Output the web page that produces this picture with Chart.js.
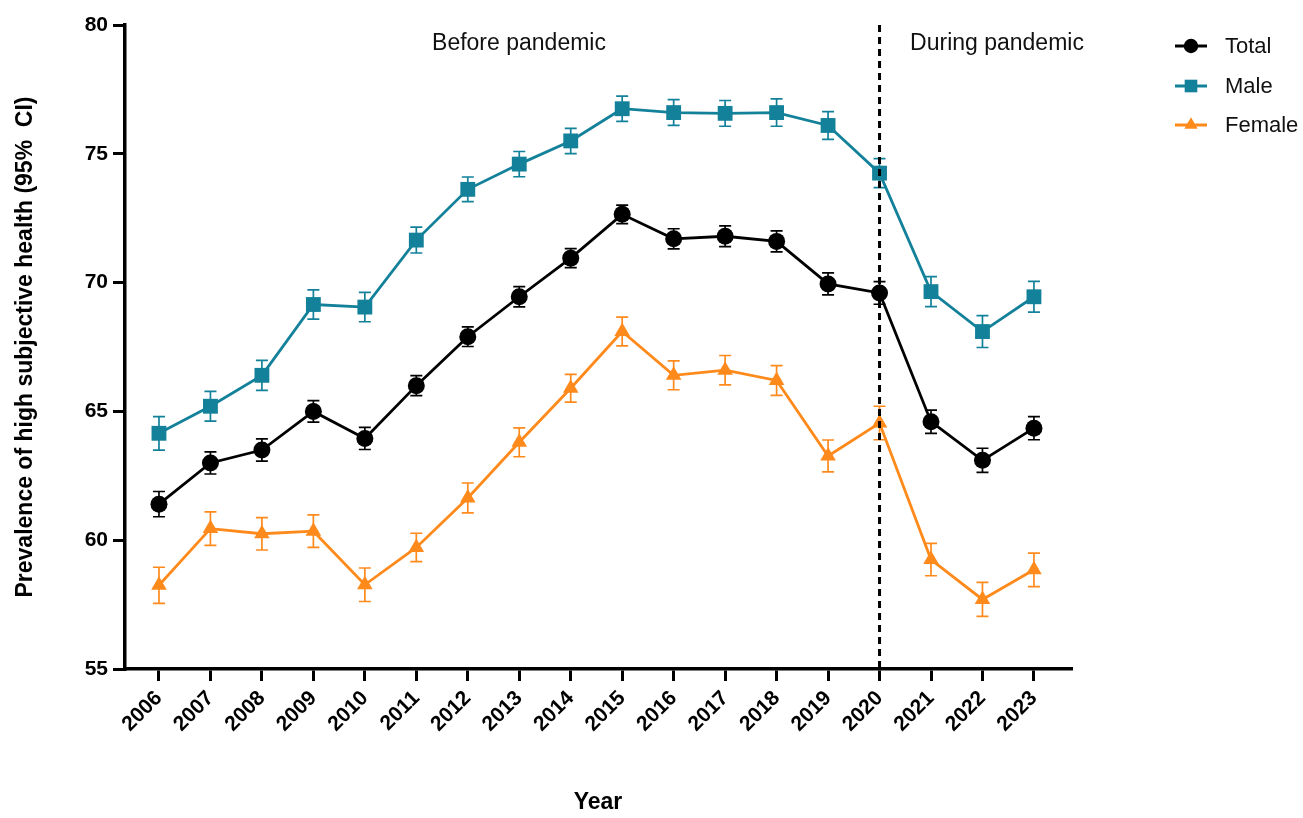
<!DOCTYPE html>
<html>
<head>
<meta charset="utf-8">
<title>Prevalence of high subjective health</title>
<script src="https://cdn.jsdelivr.net/npm/chart.js@4.4.1/dist/chart.umd.min.js"></script>
<style>
    html, body { margin: 0; padding: 0; background: #fff; }
    #wrap { width: 1303px; height: 818px; }
</style>
</head>
<body>
<div id="wrap"><canvas id="healthChart" width="1303" height="818"></canvas></div>
<script>
const years = [2006, 2007, 2008, 2009, 2010, 2011, 2012, 2013, 2014, 2015, 2016, 2017, 2018, 2019, 2020, 2021, 2022, 2023];

const totalValues = [61.4, 63.0, 63.5, 65.0, 63.95, 66.0, 67.9, 69.45, 70.95, 72.65, 71.7, 71.8, 71.6, 69.95, 69.6, 64.6, 63.1, 64.35];
const totalCI = [0.49, 0.43, 0.43, 0.42, 0.43, 0.39, 0.38, 0.39, 0.37, 0.36, 0.39, 0.4, 0.41, 0.43, 0.44, 0.45, 0.47, 0.45];

const maleValues = [64.15, 65.2, 66.4, 69.15, 69.05, 71.65, 73.62, 74.6, 75.5, 76.75, 76.6, 76.57, 76.6, 76.1, 74.25, 69.65, 68.1, 69.45];
const maleCI = [0.65, 0.58, 0.58, 0.57, 0.57, 0.5, 0.48, 0.49, 0.49, 0.49, 0.5, 0.5, 0.53, 0.54, 0.56, 0.58, 0.62, 0.6];

const femaleValues = [58.25, 60.45, 60.25, 60.35, 58.27, 59.72, 61.64, 63.8, 65.9, 68.1, 66.4, 66.6, 66.2, 63.27, 64.55, 59.25, 57.7, 58.85];
const femaleCI = [0.7, 0.65, 0.63, 0.63, 0.65, 0.55, 0.58, 0.56, 0.54, 0.56, 0.56, 0.57, 0.58, 0.62, 0.65, 0.63, 0.66, 0.65];

const yTicks = [55, 60, 65, 70, 75, 80];
const pandemicYear = 2020;
const periodLabels = ['Before pandemic', 'During pandemic'];

const colTotal = '#000000';
const colMale = '#13819a';
const colFemale = '#ff8a1c';
const fontFamily = '"Liberation Sans", Arial, Helvetica, sans-serif';

function toPoints(values) {
    return years.map((yr, i) => ({ x: yr, y: values[i] }));
}

// error bars, drawn under the markers
const errorBars = {
    id: 'errorBars',
    beforeDatasetsDraw(chart) {
        const ctx = chart.ctx;
        const xs = chart.scales.x;
        const ys = chart.scales.y;
        chart.data.datasets.forEach(ds => {
            ctx.save();
            ctx.strokeStyle = ds.borderColor;
            ctx.lineWidth = 1.7;
            ds.ci.forEach((e, i) => {
                const px = xs.getPixelForValue(years[i]);
                const top = ys.getPixelForValue(ds.data[i].y + e);
                const bot = ys.getPixelForValue(ds.data[i].y - e);
                ctx.beginPath();
                ctx.moveTo(px, top); ctx.lineTo(px, bot);
                ctx.moveTo(px - 6, top); ctx.lineTo(px + 6, top);
                ctx.moveTo(px - 6, bot); ctx.lineTo(px + 6, bot);
                ctx.stroke();
            });
            ctx.restore();
        });
    }
};

// dashed divider, period labels and legend
const decorations = {
    id: 'decorations',
    afterDraw(chart) {
        const ctx = chart.ctx;
        const area = chart.chartArea;
        const xs = chart.scales.x;
        const px = xs.getPixelForValue(pandemicYear);

        ctx.save();
        ctx.strokeStyle = '#000';
        ctx.lineWidth = 3;
        ctx.setLineDash([7, 5]);
        ctx.beginPath();
        ctx.moveTo(px, area.top);
        ctx.lineTo(px, area.bottom);
        ctx.stroke();
        ctx.setLineDash([]);

        ctx.fillStyle = '#111';
        ctx.font = '23px ' + fontFamily;
        ctx.textAlign = 'center';
        ctx.textBaseline = 'middle';
        ctx.fillText(periodLabels[0], 519, 44);
        ctx.fillText(periodLabels[1], 997, 44);

        // legend
        const rows = [46, 86, 125];
        ctx.font = '22px ' + fontFamily;
        ctx.textAlign = 'left';
        chart.data.datasets.forEach((ds, i) => {
            const y = rows[i];
            ctx.strokeStyle = ds.borderColor;
            ctx.fillStyle = ds.borderColor;
            ctx.lineWidth = 3;
            ctx.beginPath();
            ctx.moveTo(1175, y); ctx.lineTo(1207, y);
            ctx.stroke();
            Chart.helpers.drawPoint(ctx, {
                pointStyle: ds.pointStyle,
                radius: ds.pointRadius * 0.85,
                rotation: 0,
                borderWidth: 0
            }, 1191, y);
            ctx.fillStyle = '#111';
            ctx.fillText(ds.label, 1225, y + 1);
        });
        ctx.restore();
    }
};

const ctx = document.getElementById('healthChart');

new Chart(ctx, {
    type: 'line',
    data: {
        datasets: [{
            label: 'Total',
            data: toPoints(totalValues),
            ci: totalCI,
            borderColor: colTotal,
            backgroundColor: colTotal,
            pointStyle: 'circle',
            pointRadius: 8.5
        }, {
            label: 'Male',
            data: toPoints(maleValues),
            ci: maleCI,
            borderColor: colMale,
            backgroundColor: colMale,
            pointStyle: 'rect',
            pointRadius: 10.5
        }, {
            label: 'Female',
            data: toPoints(femaleValues),
            ci: femaleCI,
            borderColor: colFemale,
            backgroundColor: colFemale,
            pointStyle: 'triangle',
            pointRadius: 9
        }]
    },
    options: {
        responsive: false,
        animation: false,
        layout: {
            padding: { left: 8, right: 232, top: 25, bottom: 0 }
        },
        elements: {
            line: { borderWidth: 2.8, tension: 0 },
            point: { borderWidth: 0 }
        },
        plugins: {
            legend: { display: false },
            tooltip: { enabled: false }
        },
        scales: {
            x: {
                type: 'linear',
                min: 2005.34,
                max: 2023.72,
                afterBuildTicks: function (scale) {
                    scale.ticks = years.map(v => ({ value: v }));
                },
                afterFit: function (scale) {
                    scale.height = 149;
                },
                grid: {
                    drawOnChartArea: false,
                    tickLength: 12,
                    lineWidth: 3,
                    color: '#000'
                },
                border: { color: '#000', width: 3.5 },
                ticks: {
                    autoSkip: false,
                    minRotation: 45,
                    maxRotation: 45,
                    padding: 5,
                    color: '#000',
                    font: { family: fontFamily, size: 21, weight: 'bold' },
                    callback: function (value) {
                        return String(value);
                    }
                },
                title: {
                    display: true,
                    text: 'Year',
                    color: '#000',
                    padding: { top: 4, bottom: 2 },
                    font: { family: fontFamily, size: 23, weight: 'bold' }
                }
            },
            y: {
                min: 55,
                max: 80,
                afterBuildTicks: function (scale) {
                    scale.ticks = yTicks.map(v => ({ value: v }));
                },
                afterFit: function (scale) {
                    scale.width = 117;
                },
                grid: {
                    drawOnChartArea: false,
                    tickLength: 12,
                    lineWidth: 3,
                    color: '#000'
                },
                border: { color: '#000', width: 3.5 },
                ticks: {
                    padding: 5,
                    color: '#000',
                    font: { family: fontFamily, size: 21, weight: 'bold' }
                },
                title: {
                    display: true,
                    text: 'Prevalence of high subjective health (95%  CI)',
                    color: '#000',
                    font: { family: fontFamily, size: 23, weight: 'bold' }
                }
            }
        }
    },
    plugins: [errorBars, decorations]
});
</script>
</body>
</html>
